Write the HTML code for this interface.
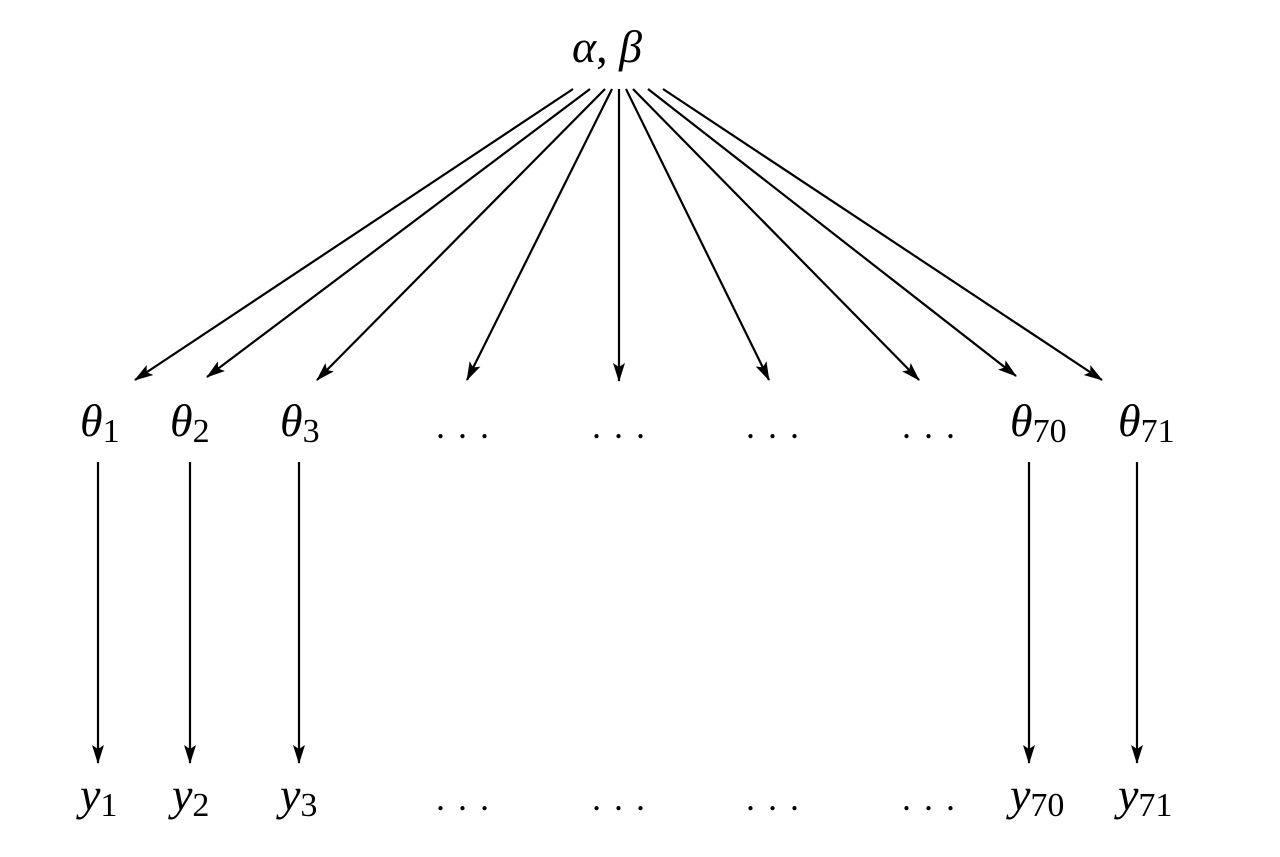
<!DOCTYPE html>
<html><head><style>
body{margin:0;background:#fff;}
svg{display:block}
text{font-family:"Liberation Serif",serif;fill:#000}
.v{font-style:italic;font-size:46px}
.s{font-size:34px;font-style:normal}
.d{font-size:36px;letter-spacing:13px}
</style></head><body>
<svg width="1280" height="857" viewBox="0 0 1280 857">
<defs>
<marker id="a" markerWidth="20" markerHeight="12" refX="18" refY="6" orient="auto" markerUnits="userSpaceOnUse">
<path d="M0,0 L19,6 L0,12 L4,6 Z" fill="#000"/>
</marker>
</defs>
<g stroke="#000" stroke-width="2.2" fill="none" marker-end="url(#a)">
<line x1="573" y1="89" x2="135" y2="380"/>
<line x1="590" y1="89" x2="207" y2="377"/>
<line x1="605" y1="89" x2="317" y2="380"/>
<line x1="612" y1="89" x2="467" y2="380"/>
<line x1="619" y1="89" x2="619" y2="381"/>
<line x1="626" y1="89" x2="769" y2="380"/>
<line x1="633" y1="89" x2="919" y2="380"/>
<line x1="648" y1="89" x2="1016" y2="376"/>
<line x1="663" y1="89" x2="1102" y2="380"/>
<line x1="98" y1="462" x2="98" y2="763"/>
<line x1="190" y1="462" x2="190" y2="763"/>
<line x1="299" y1="462" x2="299" y2="763"/>
<line x1="1029" y1="462" x2="1029" y2="763"/>
<line x1="1137" y1="462" x2="1137" y2="763"/>
</g>
<text x="572" y="62" class="v" font-size="48">α<tspan font-style="normal">,</tspan>  β</text>
<text x="80" y="436" class="v">θ<tspan class="s" dy="6">1</tspan></text>
<text x="170" y="436" class="v">θ<tspan class="s" dy="6">2</tspan></text>
<text x="280" y="436" class="v">θ<tspan class="s" dy="6">3</tspan></text>
<text x="1010" y="436" class="v">θ<tspan class="s" dy="6">70</tspan></text>
<text x="1118" y="436" class="v">θ<tspan class="s" dy="6">71</tspan></text>
<text x="80" y="810" class="v">y<tspan class="s" dy="6">1</tspan></text>
<text x="172" y="810" class="v">y<tspan class="s" dy="6">2</tspan></text>
<text x="280" y="810" class="v">y<tspan class="s" dy="6">3</tspan></text>
<text x="1010" y="810" class="v">y<tspan class="s" dy="6">70</tspan></text>
<text x="1118" y="810" class="v">y<tspan class="s" dy="6">71</tspan></text>
<text x="436" y="438" class="d">...</text>
<text x="592" y="438" class="d">...</text>
<text x="746" y="438" class="d">...</text>
<text x="902" y="438" class="d">...</text>
<text x="436" y="810" class="d">...</text>
<text x="592" y="810" class="d">...</text>
<text x="746" y="810" class="d">...</text>
<text x="902" y="810" class="d">...</text>
</svg>
</body></html>
